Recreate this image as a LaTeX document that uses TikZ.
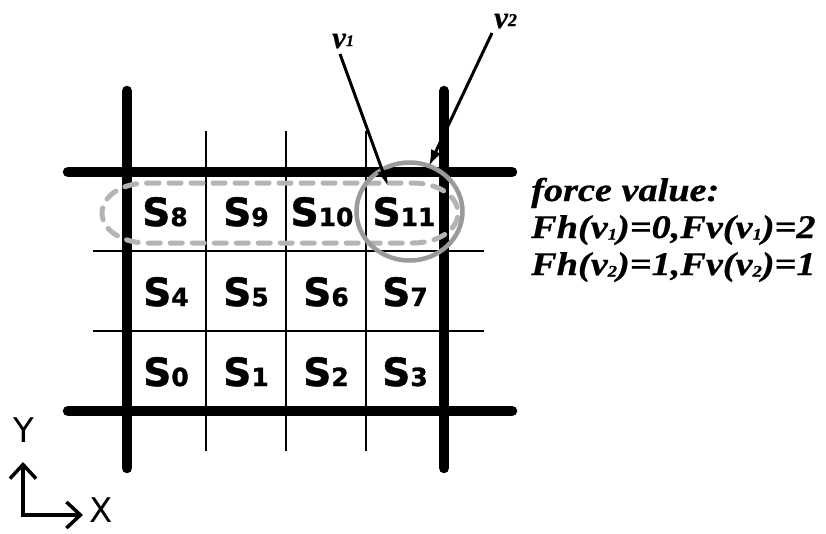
\documentclass[tikz,border=0pt]{standalone}
\usepackage{fontspec}
\usepackage{graphicx}
\usetikzlibrary{arrows.meta}
\newfontfamily\dvs{DejaVu Sans}
\newfontfamily\dvsh{DejaVu Sans}[BoldFeatures={FakeBold=1.2}]
\newfontfamily\tms{Liberation Serif}[BoldItalicFeatures={FakeBold=0.6}]
\newcommand\slab[1]{{\dvsh\bfseries\fontsize{39}{39}\selectfont S\fontsize{25}{25}\selectfont #1}}
\newcommand\sbs[1]{\raisebox{-1.5pt}{\fontsize{16}{16}\selectfont #1}}
\newcommand\fline[1]{\scalebox{1.16}[1]{\tms\bfseries\itshape\fontsize{33}{33}\selectfont #1}}
\definecolor{ringgray}{HTML}{9A9A9A}
\definecolor{dashgray}{HTML}{B4B4B4}
\tikzset{
  thickline/.style={line width=10.5pt, line cap=round},
  thinline/.style={line width=2.8pt},
  cell/.style={anchor=base, inner sep=0pt},
  ptr/.style={line width=3pt, -{Latex[length=16pt,width=11pt]}},
  axisarrow/.style={line width=3.5pt, line join=miter, {Straight Barb[length=14pt,width=26pt]}-{Straight Barb[length=14pt,width=26pt]}},
  ftext/.style={anchor=base west, inner sep=0pt},
  vlab/.style={anchor=base west, inner sep=0pt, font=\tms\bfseries\itshape\fontsize{31}{31}\selectfont},
  axlab/.style={inner sep=0pt, font=\dvs\fontsize{34}{34}\selectfont}
}
\begin{document}
\begin{tikzpicture}[x=1pt,y=-1pt]
\useasboundingbox (0,0) rectangle (826,533);
% thin grid lines
\foreach \x in {206,286,366} \draw[thinline] (\x,131) -- (\x,451);
\foreach \y in {251,331} \draw[thinline] (93,\y) -- (484,\y);
% thick grid lines
\draw[thickline] (127,91) -- (127,468);
\draw[thickline] (444,91) -- (444,468);
\draw[thickline] (68,172) -- (512,172);
\draw[thickline] (68,411) -- (512,411);
% cell labels
\node[cell] (s8)  at (165,226) {\slab{8}};
\node[cell] (s9)  at (246,226) {\slab{9}};
\node[cell] (s10) at (322,226) {\slab{10}};
\node[cell] (s11) at (404,226) {\slab{11}};
\node[cell] (s4)  at (166,306) {\slab{4}};
\node[cell] (s5)  at (246,306) {\slab{5}};
\node[cell] (s6)  at (326,306) {\slab{6}};
\node[cell] (s7)  at (405,306) {\slab{7}};
\node[cell] (s0)  at (166,386) {\slab{0}};
\node[cell] (s1)  at (246,386) {\slab{1}};
\node[cell] (s2)  at (326,386) {\slab{2}};
\node[cell] (s3)  at (405,386) {\slab{3}};
% dashed region around row
\draw[dashgray, line width=5pt, line cap=round, dash pattern=on 12pt off 10pt]
  (147,183) -- (413,183) .. controls (438,183) and (458,196) .. (458,213)
  .. controls (458,230) and (438,243) .. (413,243) -- (147,243)
  .. controls (122,243) and (102,230) .. (102,213)
  .. controls (102,196) and (122,183) .. (147,183) -- cycle;
% ring
\draw[ringgray, line width=4.5pt] (409.5,211.5) ellipse [x radius=53pt, y radius=49pt];
% pointer labels and arrows
\node[vlab] (v1) at (332,48) {v\raisebox{2pt}{\fontsize{16}{16}\selectfont 1}};
\node[vlab] (v2) at (494,28) {v\raisebox{2pt}{\fontsize{18}{18}\selectfont 2}};
\coordinate (v1s) at (340,54);
\coordinate (v1t) at (388,186);
\coordinate (v2s) at (492,33);
\coordinate (v2t) at (429,166);
\draw[ptr] (v1s) -- (v1t);
\draw[ptr] (v2s) -- (v2t);
% force text
\node[ftext] (f1) at (531,201) {\fline{force value:}};
\node[ftext] (f2) at (531,238) {\fline{Fh(v\sbs{1})=0,Fv(v\sbs{1})=2}};
\node[ftext] (f3) at (531,275) {\fline{Fh(v\sbs{2})=1,Fv(v\sbs{2})=1}};
% axes
\coordinate (org) at (23,515);
\coordinate (ytip) at (23,462);
\coordinate (xtip) at (83,515);
\draw[axisarrow] (ytip) -- (org) -- (xtip);
\node[axlab] (ylab) at (24,430) {Y};
\node[axlab] (xlab) at (101,510) {X};
\end{tikzpicture}
\end{document}
